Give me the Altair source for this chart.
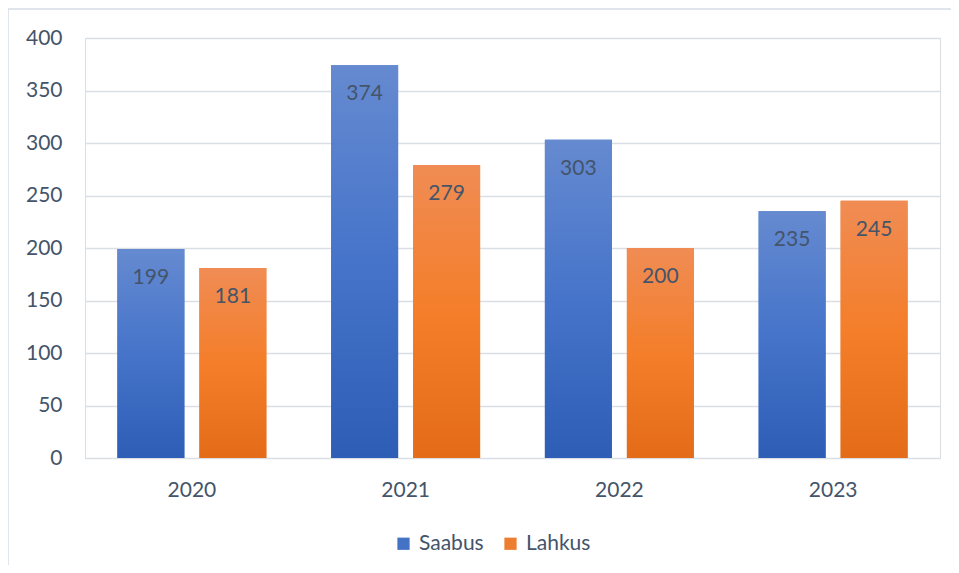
import altair as alt
import pandas as pd

years = ["2020", "2021", "2022", "2023"]
saabus = [199, 374, 303, 235]
lahkus = [181, 279, 200, 245]
series_names = ["Saabus", "Lahkus"]
y_ticks = [0, 50, 100, 150, 200, 250, 300, 350, 400]

rows = []
for i, yr in enumerate(years):
    rows.append({"year": yr, "series": "Saabus", "value": saabus[i]})
    rows.append({"year": yr, "series": "Lahkus", "value": lahkus[i]})
df = pd.DataFrame(rows)

FONT = "Lato"
TXT = "#44546A"

blue_grad = alt.Gradient(
    gradient="linear", x1=0, y1=0, x2=0, y2=1,
    stops=[alt.GradientStop(color="#658AD0", offset=0),
           alt.GradientStop(color="#4674CA", offset=0.5),
           alt.GradientStop(color="#2E5DB6", offset=1)])
orange_grad = alt.Gradient(
    gradient="linear", x1=0, y1=0, x2=0, y2=1,
    stops=[alt.GradientStop(color="#F08C54", offset=0),
           alt.GradientStop(color="#F47E2A", offset=0.5),
           alt.GradientStop(color="#E46C18", offset=1)])

x_enc = alt.X("year:N", sort=years, title=None,
              scale=alt.Scale(paddingInner=0, paddingOuter=0),
              axis=alt.Axis(labelAngle=0, domain=False, ticks=False,
                            labelFontSize=21, labelColor=TXT, labelPadding=21,
                            labelFont=FONT, grid=False))
xo_enc = alt.XOffset("series:N", sort=series_names,
                     scale=alt.Scale(paddingInner=0.183, paddingOuter=0.395))
y_enc = alt.Y("value:Q", title=None,
              scale=alt.Scale(domain=[0, 400], nice=False),
              axis=alt.Axis(values=y_ticks, domain=False, ticks=False,
                            labelFontSize=21, labelColor=TXT, labelPadding=23,
                            labelFont=FONT, gridColor="#DADFE6", gridWidth=1.5))

base = alt.Chart(df).encode(x=x_enc, xOffset=xo_enc, y=y_enc)

solid = base.mark_bar().encode(
    color=alt.Color("series:N", sort=series_names,
                    scale=alt.Scale(domain=series_names, range=["#4472C4", "#ED7D31"]),
                    legend=alt.Legend(title=None, orient="none", direction="horizontal",
                                      legendX=308, legendY=495,
                                      symbolType="square", symbolSize=150,
                                      symbolStrokeWidth=0,
                                      labelFontSize=21, labelColor=TXT, labelFont=FONT,
                                      labelOffset=5, columnPadding=16))
)

grad_blue = base.mark_bar(fill=blue_grad).transform_filter(alt.datum.series == "Saabus")
grad_orange = base.mark_bar(fill=orange_grad).transform_filter(alt.datum.series == "Lahkus")

labels = base.mark_text(dy=29, fontSize=21, color=TXT, font=FONT, baseline="middle").encode(
    text=alt.Text("value:Q"))

border = alt.Chart(alt.Data(values=[{"a": 1}])).mark_rect(
    filled=False, stroke="#D6DCE5", strokeWidth=1.5).encode(
    x=alt.value(-77), x2=alt.value(920), y=alt.value(-29), y2=alt.value(650))

chart = alt.layer(border, solid, grad_blue, grad_orange, labels).properties(
    width=855, height=420,
    autosize=alt.AutoSizeParams(type="none"),
    padding={"left": 77, "top": 30, "right": 11, "bottom": 107},
).configure_view(stroke=None).configure(background="white")

chart.save("out.html", embed_options={"renderer": "svg", "actions": False})
